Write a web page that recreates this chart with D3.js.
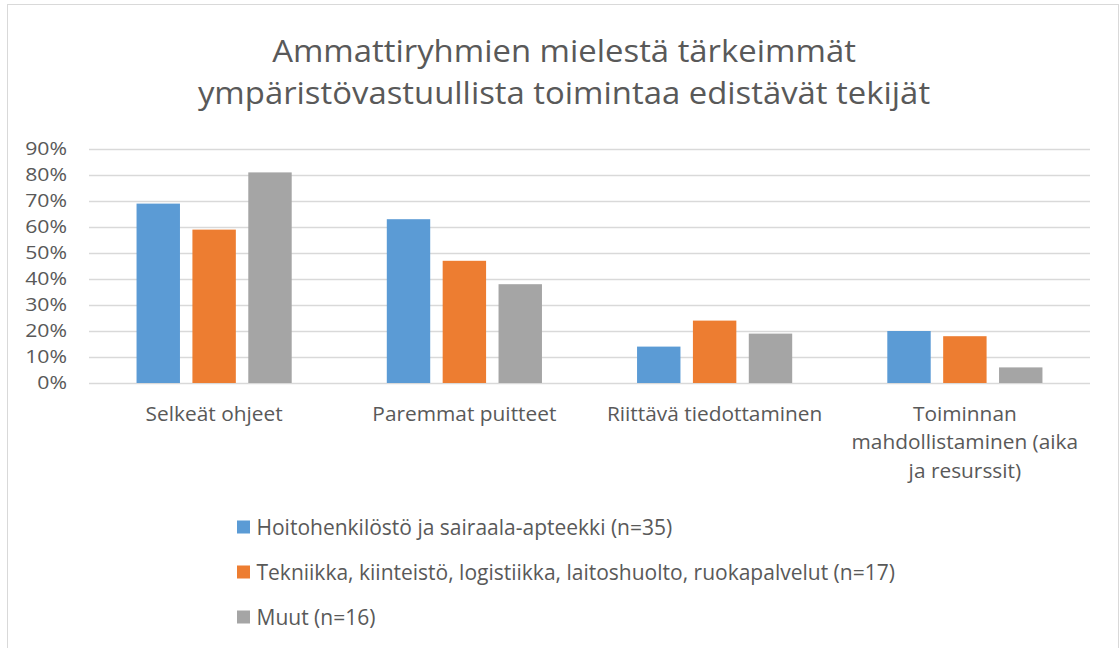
<!DOCTYPE html>
<meta charset="utf-8">
<script src="https://d3js.org/d3.v7.min.js"></script>
<style>
  body { margin: 0; background: #fff; }
  text { font-family: "Open Sans", sans-serif; fill: #595959; }
</style>
<div id="chart"></div>
<script>

// categories, series and values
const categories = [
  "Selkeät ohjeet",
  "Paremmat puitteet",
  "Riittävä tiedottaminen",
  "Toiminnan mahdollistaminen (aika ja resurssit)"
];
const categoryLines = [
  ["Selkeät ohjeet"],
  ["Paremmat puitteet"],
  ["Riittävä tiedottaminen"],
  ["Toiminnan", "mahdollistaminen (aika", "ja resurssit)"]
];
const seriesNames = [
  "Hoitohenkilöstö ja sairaala-apteekki (n=35)",
  "Tekniikka, kiinteistö, logistiikka, laitoshuolto, ruokapalvelut (n=17)",
  "Muut (n=16)"
];
const hoito = [0.69, 0.63, 0.14, 0.20];
const tekniikka = [0.59, 0.47, 0.24, 0.18];
const muut = [0.81, 0.38, 0.19, 0.06];
const yTicks = [0, 0.1, 0.2, 0.3, 0.4, 0.5, 0.6, 0.7, 0.8, 0.9];
const titleLines = [
  "Ammattiryhmien mielestä tärkeimmät",
  "ympäristövastuullista toimintaa edistävät tekijät"
];

const colors = ["#5B9BD5", "#ED7D31", "#A5A5A5"];
const seriesValues = [hoito, tekniikka, muut];

const W = 1120, H = 648;
const plot = {left: 89, right: 1090, top: 149, bottom: 383};

// the original font is a bit wider than Open Sans, stretch text a little
function stretch(sel, k, origin) {
  sel.style("transform-box", "fill-box")
    .style("transform-origin", origin)
    .style("transform", `scaleX(${k})`);
}

const svg = d3.select("#chart")
  .append("svg")
    .attr("width", W)
    .attr("height", H);

// chart border
svg.append("rect")
  .attr("x", 7.5).attr("y", 4.5)
  .attr("width", 1111).attr("height", 660)
  .attr("fill", "none")
  .attr("stroke", "#D9D9D9")
  .attr("stroke-width", 1);

// title
svg.append("g")
  .selectAll("text")
  .data(titleLines)
  .join("text")
    .attr("x", 564)
    .attr("y", (d, i) => 62 + i * 42)
    .attr("text-anchor", "middle")
    .style("font-size", "31px")
    .text(d => d)
    .call(stretch, 1.06, "center");

// scales
const x = d3.scaleBand()
  .domain(categories)
  .range([plot.left, plot.right])
  .paddingInner(0.38)
  .paddingOuter(0.19);

const xSub = d3.scaleBand()
  .domain(d3.range(seriesNames.length))
  .range([0, x.bandwidth()])
  .paddingInner(0.223);

const y = d3.scaleLinear()
  .domain([0, 0.9])
  .range([plot.bottom, plot.top]);

// gridlines
svg.append("g")
  .attr("transform", `translate(${plot.left},0)`)
  .call(d3.axisLeft(y).tickValues(yTicks).tickSize(-(plot.right - plot.left)).tickFormat(""))
  .call(g => g.select(".domain").remove())
  .call(g => g.selectAll("line").attr("stroke", "#D9D9D9").attr("stroke-width", 1.3));

// y labels
svg.append("g")
  .attr("transform", `translate(${plot.left - 22},0)`)
  .call(d3.axisLeft(y).tickValues(yTicks).tickSize(0).tickPadding(0).tickFormat(d3.format(".0%")))
  .call(g => g.select(".domain").remove())
  .call(g => g.selectAll("text")
    .style("font-size", "18px")
    .attr("fill", "#595959")
    .style("font-family", "'Open Sans', sans-serif")
    .call(stretch, 1.18, "right"));

// bars
const groups = svg.append("g")
  .selectAll("g")
  .data(categories)
  .join("g")
    .attr("transform", d => `translate(${x(d)},0)`);

groups.selectAll("rect")
  .data((c, ci) => seriesValues.map((vals, si) => ({si, v: vals[ci]})))
  .join("rect")
    .attr("x", d => xSub(d.si))
    .attr("y", d => y(d.v))
    .attr("width", xSub.bandwidth())
    .attr("height", d => y(0) - y(d.v))
    .attr("fill", d => colors[d.si]);

// category labels
const xLabels = svg.append("g")
  .selectAll("text")
  .data(categories)
  .join("text")
    .attr("x", d => x(d) + x.bandwidth() / 2)
    .attr("y", 421)
    .attr("text-anchor", "middle")
    .style("font-size", "19.5px")
    .call(stretch, 1.07, "center");

xLabels.selectAll("tspan")
  .data((d, i) => categoryLines[i])
  .join("tspan")
    .attr("x", function () { return this.parentNode.getAttribute("x"); })
    .attr("dy", (d, i) => i === 0 ? 0 : 28.5)
    .text(d => d);

// legend
const legend = svg.append("g")
  .selectAll("g")
  .data(seriesNames)
  .join("g")
    .attr("transform", (d, i) => `translate(237,${527 + i * 45})`);

legend.append("rect")
  .attr("x", 0).attr("y", -6.5)
  .attr("width", 13).attr("height", 13)
  .attr("fill", (d, i) => colors[i]);

legend.append("text")
  .attr("x", 19.5)
  .attr("y", 7.5)
  .style("font-size", "21px")
  .text(d => d);

</script>
